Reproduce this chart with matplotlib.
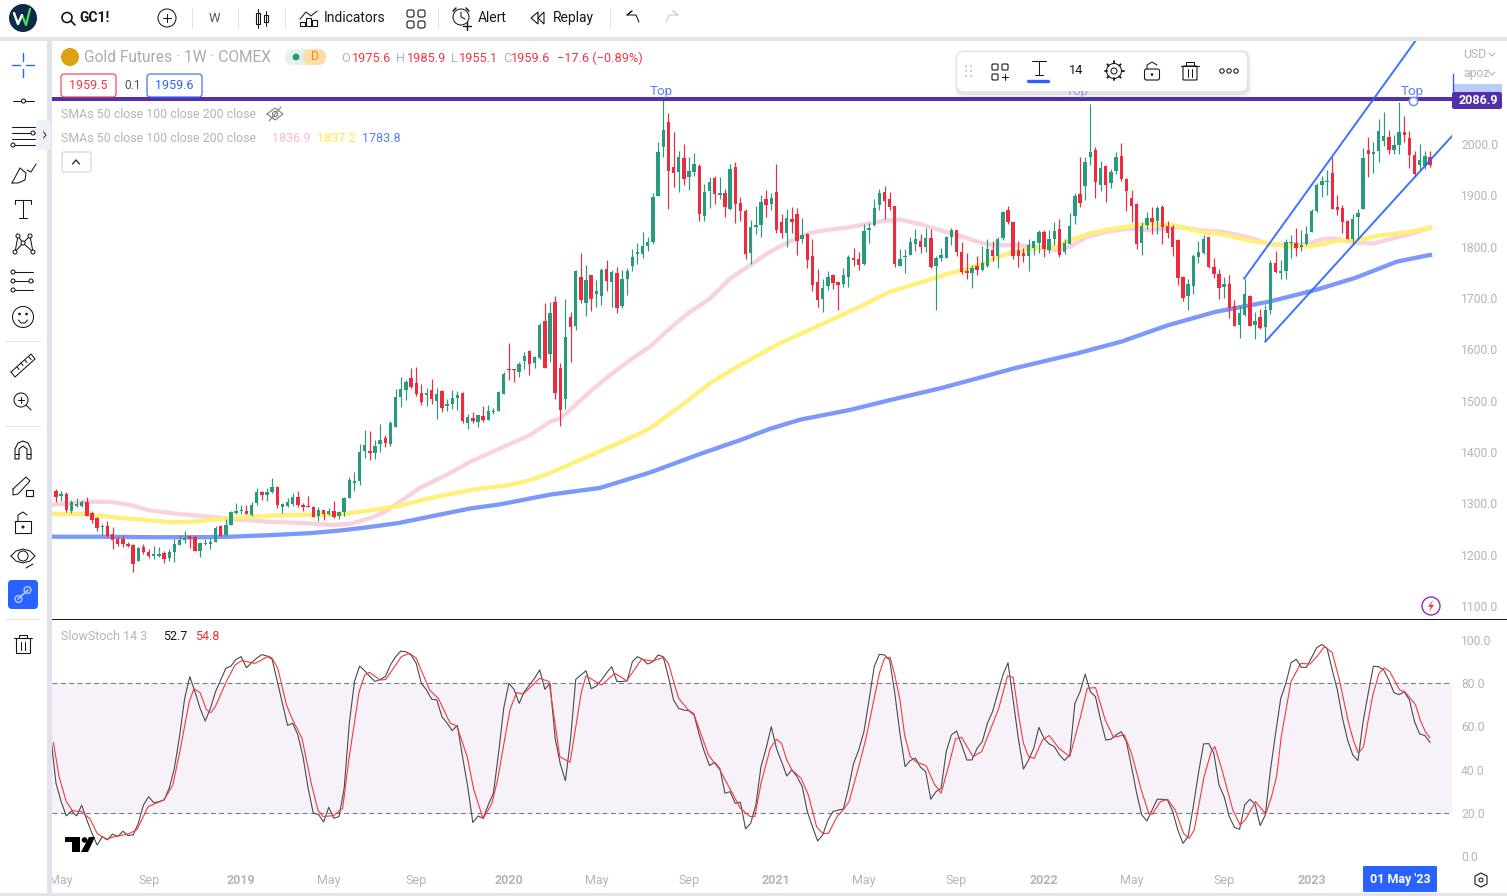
import numpy as np
import matplotlib
matplotlib.use("Agg")
import matplotlib.pyplot as plt
from matplotlib.patches import Circle, FancyBboxPatch, Polygon, Rectangle

plt.rcParams['font.family'] = ['Roboto', 'DejaVu Sans']

# weekly gold futures
open_ = [1324,1314,1318,1286,1294,1294,1302,1281,1271,1253,
         1255,1240,1230,1230,1221,1218,1187,1214,1206,1197,
         1197,1203,1193,1205,1219,1228,1236,1234,1207,1220,
         1221,1225,1255,1239,1257,1281,1285,1286,1278,1300,
         1322,1316,1322,1332,1293,1294,1298,1312,1296,1294,
         1293,1275,1288,1279,1286,1275,1283,1311,1340,1344,
         1402,1402,1398,1416,1427,1415,1449,1507,1520,1544,
         1534,1515,1511,1521,1499,1519,1489,1493,1505,1515,
         1456,1466,1458,1470,1462,1478,1480,1513,1561,1561,
         1555,1577,1597,1573,1583,1655,1591,1692,1564,1503,
         1663,1646,1741,1690,1745,1708,1704,1756,1731,1749,
         1684,1737,1762,1786,1786,1801,1809,1899,1994,2043,
         1955,1945,1973,1936,1945,1957,1860,1908,1934,1901,
         1904,1873,1955,1885,1869,1788,1838,1842,1893,1883,
         1906,1848,1827,1854,1864,1815,1825,1782,1731,1698,
         1723,1745,1731,1727,1741,1778,1776,1766,1832,1842,
         1881,1906,1893,1879,1762,1780,1784,1805,1811,1799,
         1817,1762,1778,1778,1819,1832,1790,1753,1749,1762,
         1755,1762,1793,1782,1817,1871,1848,1793,1788,1782,
         1797,1807,1829,1793,1815,1834,1790,1805,1860,1903,
         1918,1975,1988,1920,1957,1924,1947,1977,1932,1895,
         1883,1807,1842,1856,1850,1877,1840,1838,1813,1741,
         1704,1723,1780,1788,1819,1760,1747,1721,1727,1684,
         1647,1667,1703,1647,1663,1644,1677,1768,1749,1753,
         1807,1807,1799,1805,1829,1869,1920,1926,1943,1877,
         1875,1850,1815,1858,1873,1988,1980,1986,2006,2013,
         1988,1998,2023,2011,1978,1959,1957,1975.6]
high = [1327,1325,1322,1306,1310,1306,1312,1286,1273,1260,
        1265,1254,1234,1238,1225,1221,1215,1220,1212,1216,
        1215,1208,1212,1230,1238,1246,1239,1238,1225,1231,
        1233,1255,1257,1270,1285,1301,1296,1296,1303,1329,
        1324,1329,1349,1333,1301,1310,1320,1324,1301,1314,
        1294,1292,1288,1290,1304,1286,1313,1352,1361,1415,
        1442,1441,1423,1454,1433,1460,1522,1546,1540,1563,
        1565,1532,1524,1542,1524,1521,1503,1521,1519,1517,
        1474,1478,1472,1489,1491,1485,1519,1556,1612,1561,
        1575,1595,1599,1587,1651,1690,1692,1704,1573,1698,
        1673,1755,1788,1764,1745,1735,1758,1774,1755,1760,
        1755,1758,1795,1807,1829,1819,1904,2004,2086,2060,
        2023,1986,2000,1975,1982,1961,1922,1936,1938,1936,
        1912,1961,1965,1897,1873,1852,1879,1901,1910,1904,
        1961,1864,1873,1877,1875,1856,1827,1815,1756,1737,
        1753,1747,1731,1758,1784,1797,1790,1844,1846,1893,
        1912,1918,1906,1879,1795,1795,1819,1834,1825,1836,
        1834,1782,1797,1821,1836,1832,1809,1788,1764,1782,
        1801,1815,1811,1819,1869,1879,1848,1811,1797,1815,
        1811,1832,1832,1832,1848,1854,1815,1865,1904,1975,
        1975,2078,1994,1967,1959,1951,1984,2002,1934,1910,
        1885,1848,1867,1877,1879,1881,1850,1842,1815,1743,
        1737,1786,1811,1823,1819,1778,1756,1741,1745,1696,
        1684,1737,1706,1673,1679,1686,1774,1791,1774,1815,
        1823,1836,1832,1840,1873,1924,1938,1949,1975,1901,
        1881,1852,1864,1873,1992,2013,2004,2049,2062,2027,
        2017,2082,2054,2025,1986,2000,1986,1985.9]
low = [1303,1305,1283,1281,1292,1292,1275,1262,1246,1238,
       1234,1211,1217,1214,1214,1166,1187,1202,1194,1192,
       1195,1184,1188,1186,1218,1223,1213,1207,1195,1218,
       1211,1225,1237,1236,1257,1279,1279,1279,1275,1296,
       1306,1305,1320,1291,1281,1292,1295,1292,1285,1292,
       1274,1266,1268,1277,1272,1270,1275,1311,1324,1336,
       1389,1384,1387,1400,1410,1412,1449,1488,1501,1524,
       1509,1491,1489,1493,1464,1478,1480,1484,1482,1456,
       1444,1456,1448,1458,1462,1474,1480,1513,1540,1536,
       1547,1562,1550,1564,1581,1564,1575,1503,1451,1484,
       1575,1638,1690,1665,1675,1683,1686,1714,1683,1671,
       1681,1706,1753,1766,1778,1792,1805,1899,1975,1873,
       1916,1906,1920,1910,1938,1850,1850,1875,1883,1893,
       1858,1871,1846,1850,1776,1766,1825,1819,1858,1871,
       1827,1817,1799,1827,1784,1807,1758,1714,1682,1673,
       1716,1718,1677,1721,1721,1762,1755,1764,1807,1840,
       1871,1854,1871,1760,1762,1749,1784,1791,1788,1790,
       1758,1677,1772,1778,1803,1782,1747,1737,1719,1745,
       1753,1760,1772,1758,1813,1844,1776,1760,1770,1753,
       1784,1788,1780,1788,1803,1780,1786,1805,1844,1877,
       1891,1959,1895,1908,1887,1914,1941,1928,1869,1848,
       1795,1784,1834,1825,1825,1805,1817,1782,1725,1694,
       1677,1708,1768,1786,1758,1739,1698,1700,1661,1645,
       1622,1665,1645,1620,1640,1616,1669,1749,1737,1737,
       1778,1782,1791,1803,1829,1867,1897,1901,1873,1862,
       1827,1815,1807,1815,1873,1936,1943,1965,1996,1980,
       1980,1980,2004,1953,1935,1949,1952,1955.1]
close = [1312,1319,1288,1303,1298,1303,1275,1267,1251,1256,
         1237,1228,1220,1221,1216,1182,1213,1205,1197,1201,
         1201,1192,1205,1221,1228,1233,1231,1207,1223,1222,
         1224,1251,1237,1257,1283,1285,1288,1279,1296,1322,
         1316,1322,1332,1296,1298,1302,1312,1296,1293,1292,
         1274,1288,1279,1286,1274,1283,1311,1345,1343,1400,
         1413,1398,1411,1424,1417,1457,1507,1522,1536,1526,
         1513,1497,1515,1503,1513,1485,1493,1505,1511,1460,
         1468,1460,1472,1462,1480,1480,1517,1552,1559,1559,
         1571,1587,1572,1585,1647,1564,1671,1515,1482,1624,
         1644,1753,1696,1735,1698,1714,1755,1733,1751,1681,
         1737,1753,1780,1790,1801,1809,1897,1984,2027,1947,
         1943,1975,1932,1947,1961,1864,1906,1926,1903,1904,
         1877,1951,1883,1869,1786,1838,1842,1887,1881,1895,
         1832,1827,1856,1848,1811,1823,1774,1725,1696,1719,
         1741,1729,1725,1745,1780,1774,1764,1830,1836,1875,
         1904,1889,1877,1766,1776,1782,1809,1815,1799,1817,
         1760,1778,1784,1819,1832,1790,1751,1749,1758,1755,
         1768,1795,1782,1815,1867,1848,1782,1782,1782,1803,
         1811,1829,1795,1815,1830,1784,1807,1840,1899,1885,
         1965,1984,1926,1953,1920,1945,1975,1932,1908,1879,
         1805,1840,1856,1848,1875,1838,1827,1799,1739,1700,
         1727,1782,1790,1815,1760,1747,1719,1727,1680,1645,
         1671,1708,1645,1655,1642,1677,1768,1751,1753,1809,
         1809,1797,1803,1825,1869,1920,1928,1928,1873,1871,
         1848,1815,1854,1865,1973,1980,1984,2025,2015,1988,
         1998,2023,2017,1978,1941,1969,1977,1959.6]

# moving averages: (week, value) read at the bends
sma50_w = [-1,6.6,10.5,14.4,18.3,24.1,29.9,35.8,41.6,47.4,53.2,57.1,61,63.9,66.8,70.7,76.6,80.5,86.3,92.1,96,
           97.9,99.9,103.8,107.7,111.5,115.4,119.3,123.2,127.1,131,134.9,138.7,142.6,146.5,149.4,154.3,160.1,164,167.9,171.8,175.7,
           179.6,182.1,186.8,189.9,194.5,197.1,200.3,204.2,208.1,212.6,217.8,222.3,226.8,231.4,235.9,239.8,243.1,246.2,248.9,252,255.9,259.8,263.7,267]
sma50 = [1297,1303,1303,1297,1286,1279,1274,1268,1264,1262,1258,1260,1271,1283,1303,1330,1359,1381,1407,1433,1459,
         1465,1482,1518,1550,1579,1605,1641,1673,1699,1738,1764,1790,1810,1827,1832,1838,1849,1853,1844,1832,1821,
         1808,1803,1803,1800,1793,1800,1819,1829,1835,1832,1839,1832,1829,1819,1805,1803,1805,1815,1816,1808,1806,1816,1826,1836.9]
sma100_w = [-1,5.4,11,16.8,22.6,26.4,32.3,38.1,43.9,49.8,55.6,61,66.8,72.6,80.5,88.2,92.1,96,
            111.5,115.4,121.2,127.1,132.9,140.7,148.4,156.2,162,167.9,173.7,177.6,
            181,184.3,187.5,190.8,194.5,197.1,201,204.9,208.8,212.6,217.1,222.3,226.8,231.4,235.9,239.8,243.1,246.2,249.5,252.8,256.7,260.6,263.7,267]
sma100 = [1279,1279,1273,1268,1263,1264,1270,1274,1277,1278,1279,1286,1295,1310,1326,1336,1345,1359,
          1427,1446,1488,1534,1569,1612,1647,1683,1712,1730,1748,1758,
          1771,1784,1792,1797,1800,1813,1826,1834,1840,1844,1842,1829,1824,1813,1805,1801,1800,1805,1812,1812,1821,1826,1830,1837.2]
sma200_w = [-1,8.6,18.3,28,33.8,41.6,49.4,55.2,61,66.8,72.6,80.5,86.3,96,105.7,115.4,125.1,132.9,138.7,144.6,154.3,162,171.8,179.6,
            186.2,198.4,207,216.1,225.3,235.8,244.9,252.7,260.6,267]
sma200 = [1235,1235,1234,1234,1235,1238,1242,1247,1254,1262,1274,1290,1298,1317,1330,1360,1396,1423,1445,1463,1482,1501,1524,1545,
          1563,1592,1615,1647,1673,1693,1716,1740,1771,1783.8]

# channel lines and the horizontal line drawn by hand on the chart
channel_w = [[230.9, 264.3], [235, 271.3]]
channel_p = [[1738, 2202.6], [1615, 2015.6]]
top_level = 2086.9
top_w = [117.6, 198.5, 263.5]

# slow stochastic %K, one value per week from week -1
stoch_k = [55,33.7,25.2,18.6,20.9,18.6,23.5,16.7,10.5,5.1,9.0,7.5,10.2,9.0,11.5,9.5,9.8,15.2,23.7,27.5,
           24.7,25.2,26.0,31.4,40.6,55.3,73.0,83.1,76.1,68.4,62.5,68.4,76.1,81.5,86.9,88.0,91.1,92.3,87.2,89.5,
           91.6,93.3,92.6,91.1,80.8,70.7,60.5,61.5,56.1,46.0,31.4,19.8,19.3,15.8,22.6,17.5,18.3,31.4,61.5,80.8,
           88.0,85.8,83.1,80.8,81.8,83.1,88.5,92.3,94.9,94.6,93.1,89.2,80.0,76.9,72.6,72.3,64.5,61.5,58.1,60.5,
           46.0,32.2,15.5,18.6,17.5,23.7,29.1,47.6,68.4,80.0,77.2,70.7,76.1,79.2,82.3,86.2,77.2,80.0,54.5,42.6,
           34.9,54.5,81.8,83.8,85.8,77.5,78.7,81.5,84.9,87.7,80.8,80.8,81.1,90.0,92.3,91.1,88.9,90.0,93.1,92.3,
           83.1,72.3,68.4,67.6,67.3,65.3,56.1,48.3,41.9,43.4,40.6,29.1,29.8,24.4,24.9,12.6,15.2,
           23.7,41.4,49.9,59.9,49.9,43.7,37.1,39.9,36.8,32.2,20.6,13.6,7.0,9.8,16.7,20.6,21.3,21.8,31.4,43.0,
           49.1,57.6,72.3,87.7,93.4,93.1,90.8,75.4,56.8,41.4,44.2,45.3,41.1,39.1,26.3,29.8,31.4,48.4,56.1,57.9,
           51.4,44.5,44.5,49.9,53.0,61.5,66.9,75.4,83.8,89.5,72.3,54.5,40.3,44.5,49.9,59.6,54.5,51.9,50.7,46.8,
           44.3,46.8,70.7,76.1,84.2,76.1,73.8,63.0,53.7,54.1,56.1,57.6,53.0,41.4,29.1,19.0,16.3,21.3,26.3,26.3,
           26.0,20.6,12.1,5.9,9.0,22.9,38.3,51.9,52.1,47.6,32.9,27.5,18.3,13.3,12.4,23.7,26.3,24.1,14.1,19.0,
           39.9,56.8,73.0,80.0,89.5,91.1,87.4,87.4,92.0,96.5,98.0,96.2,86.2,76.9,63.8,53.7,46.8,44.2,62.2,75.4,
           87.9,87.7,86.2,81.5,75.7,74.7,76.1,72.3,62.2,56.5,55.8,52.7]
# %D read at its bends
stoch_d_w = [-0.5,0.6,2,3.2,4.9,6.6,8,9.7,11.4,14,15.7,17.9,21,22.7,24,25.9,26.8,28,29.2,30.1,30.9,33.1,34.8,36.1,38.7,41.3,42,43.1,44.8,45.9,47.8,49.6,50.9,51.9,53.9,55.7,56.9,58.9,60,60.9,63,64.1,67.1,68.7,70,72.6,74.3,76.6,77.9,79.9,81.2,83,84.7,85.8,88.2,89.5,90.8,94,95.8,97.9,99.9,102.1,103,106,108.6,110.9,113.8,115.9,118.1,119,121,122.9,123.9,126.8,129,130.9,133,134.9,
             135.8,137,138.8,140,141,142,143,144.8,146.2,147.8,149,150.1,151.8,153.2,154.1,156,157.4,158.8,160,161,162.1,163,164,164.9,166,167.3,169.1,170.6,172,173.6,174.8,176,178.2,179.9,181.8,183.2,184.9,186,187.1,188,189,190.1,191.7,193,194.9,197,199.1,200.4,202,203.9,205.5,207.6,209,210.9,212.3,213,214.6,216,217.5,219.1,220.2,221.2,223.1,224.5,225.2,226.4,228.7,230.1,231.1,233.1,235.1,236.2,237.2,238.1,240,241.9,243.7,245.1,246.5,248,249.4,251.2,252.2,253.1,254.1,255,255.9,257.1,258.1,259.2,261.1,262.1,263.2,264.2,265.1,266.1,267]
stoch_d = [52.5,36.8,25.2,21.0,20.6,17.2,10.5,7.8,9.0,10.2,12.1,22.9,26,32.9,47.6,71.5,77.4,75.7,67.9,66.4,68.9,80.8,88.5,90.5,89.2,92.6,91.6,86.9,69.9,63.5,54.5,33.7,21.3,18.3,18.7,22.1,44.5,76.1,83.8,85.1,81.5,81.8,92.3,93.9,91.6,76.9,73,61.5,60.2,46,30.6,17.2,24.4,35.2,67.6,75.7,75.0,82.3,80.8,46,43.4,76.1,83.4,79.2,84.6,81.2,91.1,90.3,92,89.2,73,67.6,66.1,46.8,39.9,31.4,22.1,18.3,
           18.3,33.7,49.9,54.1,52.2,44.5,39.9,36,28.3,13.6,10.5,10.5,18.3,22.1,25.2,41.4,54.5,70.7,84.6,91.6,92,83.8,72.3,56.1,46,43.4,41.9,33.7,29.1,43,54.2,55,46,48.4,59.9,68.4,83.4,82.8,64.6,52.2,46,45.3,53.8,55.8,49.9,46,64.6,77.7,78,63,55,56.1,47.6,30.6,20.1,19.3,25.2,26.3,21.3,10.5,8.2,12.1,36.8,48.4,50.7,41.4,21.3,14.4,16.7,25.2,19.5,27.5,36.8,55.3,80.8,89.2,88.9,92.6,97,94.2,81.5,61.5,53,47.6,50.7,63,74.6,84.6,87.2,85.4,76.9,76.1,73,70,63,57.6,54.8]

price_ticks = [1100,1200,1300,1400,1500,1600,1700,1800,1900,2000]
stoch_ticks = [0,20,40,60,80,100]
time_ticks = [1,18,36,53,70,88,105,123,140,157,175,192,209,227,244]
time_labels = ['May','Sep','2019','May','Sep','2020','May','Sep','2021','May','Sep','2022','May','Sep','2023']

GREEN = '#2A9A7C'
RED = '#EE2A3E'
GREY = '#B2B5BE'
INK = '#131722'
BLUE = '#2962FF'
W, H = 1507, 896
XMIN, XMAX = -0.777, 271.28

def pane(y0, y1):
    return fig.add_axes([52/W, 1-y1/H, 1400/W, (y1-y0)/H])

fig = plt.figure(figsize=(W/100, H/100), dpi=100, facecolor='white')
ax = pane(40, 619)
ax2 = pane(620, 866)

# price pane
weeks = np.arange(len(close))
op, hi, lo, cl = map(np.array, (open_, high, low, close))
colors = np.where(cl >= op, GREEN, RED)
ax.plot(sma50_w, sma50, color='#F8D3DE', lw=3.1, zorder=2)
ax.plot(sma100_w, sma100, color='#FFF07A', lw=3.1, zorder=2.1)
ax.plot(sma200_w, sma200, color='#7D98FB', lw=3.1, zorder=2.2)
ax.vlines(weeks, lo, hi, colors=colors, lw=0.85, zorder=3)
ax.bar(weeks, np.maximum(np.abs(cl-op), 1.5), bottom=np.minimum(op, cl), width=0.66, color=colors, lw=0, zorder=3.1)
ax.axhline(top_level, color='#5130A8', lw=2.9, zorder=4)
for w_, p_ in zip(channel_w, channel_p):
    ax.plot(w_, p_, color=BLUE, lw=1.4, zorder=5, alpha=0.9)
for w_ in top_w:
    ax.text(w_, top_level+3, 'Top', color='#5B7CF5', fontsize=9.6, ha='center', va='bottom', zorder=5)
ax.plot([263.7], [top_level-3], 'o', mfc='white', mec='#7D98FB', ms=6, mew=1.2, zorder=6)
ax.set_xlim(XMIN, XMAX)
ax.set_ylim(1074.7, 2202.6)
ax.set_xticks([])
ax.set_yticks(price_ticks, [f'{t:.1f}' for t in price_ticks])

# stochastic pane
ax2.axhspan(20, 80, color='#F7F1FA', lw=0, zorder=0)
ax2.axhline(80, color='#787B86', lw=0.8, dashes=(4.5, 3))
ax2.axhline(20, color='#787B86', lw=0.8, dashes=(4.5, 3))
ax2.plot(np.arange(len(stoch_k))-1, stoch_k, color='#4A4A4F', lw=0.8, zorder=3)
ax2.plot(stoch_d_w, stoch_d, color='#F23B3B', lw=0.8, zorder=4)
ax2.set_xlim(XMIN, XMAX)
ax2.set_ylim(-4.6, 109.3)
ax2.set_yticks(stoch_ticks, [f'{t:.1f}' for t in stoch_ticks])
ax2.set_xticks(time_ticks, time_labels)
for t in ax2.get_xticklabels():
    if t.get_text().isdigit():
        t.set_fontweight('bold')

for a in (ax, ax2):
    a.yaxis.tick_right()
    a.tick_params(axis='y', length=0, pad=6.5, labelcolor=GREY, labelsize=8.7)
    a.tick_params(axis='x', length=0, pad=6, labelcolor=GREY, labelsize=9)
    for s in a.spines.values():
        s.set_visible(False)

# screen furniture, in pixels
ui = fig.add_axes([0, 0, 1, 1], zorder=10)
ui.set_xlim(0, W)
ui.set_ylim(H, 0)
ui.axis('off')
ui.patch.set_alpha(0)

def rect(x0, y0, x1, y1, fc, ec='none', lw=0.8):
    ui.add_patch(Rectangle((x0, y0), x1-x0, y1-y0, fc=fc, ec=ec, lw=lw))

def rbox(x0, y0, x1, y1, fc='white', ec='none', r=3, lw=0.8, z=2, alpha=None):
    ui.add_patch(FancyBboxPatch((x0, y0), x1-x0, y1-y0, boxstyle=f'round,pad=0,rounding_size={r}', fc=fc, ec=ec, lw=lw, zorder=z, alpha=alpha))

def line(xs, ys, c=INK, lw=0.75, z=3):
    ui.plot(xs, ys, color=c, lw=lw, solid_capstyle='round', zorder=z)

def circ(x, y, r, ec=INK, fc='none', lw=0.75, z=3):
    ui.add_patch(Circle((x, y), r, fc=fc, ec=ec, lw=lw, zorder=z))

def txt(x, y, s, c=INK, size=9.4, ha='left', weight='normal', z=4):
    ui.text(x, y, s, color=c, fontsize=size, ha=ha, va='center', fontweight=weight, zorder=z)

BAND = '#E0E3EB'
rect(0, 0, W, 37, 'white')
rect(0, 37, W, 41, BAND)
rect(0, 41, 47, H, 'white')
rect(47, 37, 52, H, BAND)
rect(0, 893, W, H, BAND)
rect(52, 619, W, 620, INK)
rbox(36, 120, 51, 150, fc='#EEF1F8', r=4)
line([43.5, 46, 43.5], [132, 135, 138], c='#333')

# top bar
circ(23, 18, 14, ec='none', fc='#0F2A47')
line([14, 18, 22, 26, 30], [13, 24, 15, 25, 9], c='#4CD964', lw=1.6)
line([14, 18, 22], [13, 24, 15], c='white', lw=1.6)
circ(67, 17.5, 5, lw=1.2)
line([71, 75], [21, 25], lw=1.2)
txt(79, 18, 'GC1!', weight='bold', size=10)
circ(167, 18, 9)
line([163, 171], [18, 18])
line([167, 167], [14, 22])
txt(214, 18, 'W', ha='center', c='#555')
for x_ in (192, 238, 285, 438, 610):
    line([x_, x_], [8, 28], c=BAND)
rect(256, 13, 260, 24, 'white', ec=INK)
line([258, 258], [9, 28])
rect(263.5, 15, 267.5, 22, 'white', ec=INK)
line([265.5, 265.5], [11, 26])
line([300, 306, 311, 317], [19, 12, 16, 11])
for x_, y_ in ((300, 22), (306, 18), (312, 20)):
    rect(x_, y_, x_+4.5, 26, 'white', ec=INK)
txt(324, 18, 'Indicators', size=10)
for x_ in (407, 418):
    for y_ in (10, 21):
        rbox(x_, y_, x_+7, y_+7, ec=INK, r=2)
circ(461, 17, 8)
line([461, 461, 465], [12, 17, 19])
line([453, 456], [11, 8], lw=1.1)
line([466, 469], [8, 11], lw=1.1)
line([463, 471], [26, 26], lw=1)
line([467, 467], [22, 30], lw=1)
txt(478, 18, 'Alert', size=10)
ui.add_patch(Polygon([[538, 12], [531, 18], [538, 24]], fc='none', ec=INK, lw=0.8))
ui.add_patch(Polygon([[544, 12], [538, 18], [544, 24]], fc='none', ec=INK, lw=0.8))
txt(553, 18, 'Replay', size=10)
line([627, 632, 627, 636, 639], [15, 11, 15, 15, 22])
line([678, 673, 678, 669, 666], [15, 11, 15, 15, 22], c='#C8CAD0')

# left toolbar
line([23, 23], [53, 61], c=BLUE, lw=1)
line([23, 23], [69, 77], c=BLUE, lw=1)
line([12, 20], [65, 65], c=BLUE, lw=1)
line([26, 34], [65, 65], c=BLUE, lw=1)
line([13, 34], [101, 101])
circ(23.5, 101, 2, fc='white')
for y_, a_, b_ in ((127, 12, 35), (133, 12, 35), (139, 12, 35), (145, 12, 35)):
    line([a_, b_], [y_, y_])
circ(33, 133, 2, fc='white')
circ(13, 145, 2, fc='white')
line([12, 20, 26, 25, 18, 12], [183, 168, 173, 180, 183, 183])
line([27, 31, 36], [170, 172, 164])
line([23, 23], [200, 218])
line([15, 31], [200, 200])
line([15, 15], [200, 204])
line([31, 31], [200, 204])
line([19, 27], [218, 218])
pts = [(15, 252), (18, 236), (30, 236), (33, 252), (23, 243)]
for a_, b_ in ((0, 1), (1, 4), (4, 2), (2, 3), (4, 3), (4, 0)):
    line([pts[a_][0], pts[b_][0]], [pts[a_][1], pts[b_][1]])
for p in pts:
    circ(p[0], p[1], 2, fc='white')
for y_ in (272, 281, 290):
    line([14, 33], [y_, y_])
    circ(13, y_, 2, fc='white')
circ(31, 281, 2, fc='white')
circ(23, 317, 10.5)
circ(19.5, 314, 0.8, fc=INK)
circ(26.5, 314, 0.8, fc=INK)
line([18.5, 21, 25, 27.5], [320, 323, 323, 320])
line([5, 40], [341, 341], c=BAND)
line([11, 31, 35, 15, 11], [372, 354, 359, 377, 372])
for x_, y_ in ((17, 367), (21, 363), (25, 360), (29, 357)):
    line([x_, x_+2], [y_, y_+2.5])
circ(21, 400, 7)
line([26, 31], [405, 410])
line([18, 24], [400, 400])
line([21, 21], [397, 403])
line([5, 40], [426, 426], c=BAND)
ui.add_patch(Polygon([[15, 459], [15, 449], [18, 443], [23, 441], [28, 443], [31, 449], [31, 459], [27, 459], [27, 449], [23, 446], [19, 449], [19, 459]], fc='none', ec=INK, lw=0.8))
line([15, 19], [454, 454])
line([27, 31], [454, 454])
line([13, 26, 30, 18, 13, 13], [489, 477, 481, 494, 495, 489])
rect(26, 490, 33, 496, 'white', ec=INK)
rect(15, 521, 31, 533, 'white', ec=INK)
line([18, 18, 23, 27], [521, 515, 512, 515])
circ(23, 527, 1, fc=INK)
circ(23, 556, 5)
line([11, 16, 23, 30, 35, 30, 23, 16, 11], [556, 551, 549, 551, 556, 561, 563, 561, 556])
line([26, 33], [568, 564])
rbox(8, 580, 38, 609, fc=BLUE, r=4)
line([18, 28], [599, 590], c='#B9CAFF', lw=1.2)
circ(18.5, 599, 3.4, ec='#B9CAFF', lw=1)
circ(27.5, 590, 3.4, ec='#B9CAFF', lw=1)
line([5, 40], [619, 619], c=BAND)
rect(16, 638, 30, 653, 'white', ec=INK)
line([14, 32], [638, 638])
line([19, 19, 27, 27], [638, 635, 635, 638])
line([21, 21], [642, 650])
line([25, 25], [642, 650])

# chart legend
circ(70, 57, 9, ec='none', fc='#E0A10F')
rect(64, 58.5, 76, 60, 'white')
rect(66, 55.5, 74, 57, 'white')
txt(84, 57, 'Gold Futures · 1W · COMEX', c='#A8ABB4', size=11.2)
rbox(285, 49, 326, 65, fc='#E3F2EE', r=8)
rbox(303, 49, 326, 65, fc='#FCDDA8', r=8)
circ(296, 57, 3.4, ec='none', fc='#2A9A7C')
txt(315, 57, 'D', c='#F08C00', size=9, ha='center')
for x_, lab, val in ((341, 'O', '1975.6'), (396, 'H', '1985.9'), (451, 'L', '1955.1'), (503, 'C', '1959.6')):
    txt(x_, 58, lab, c=GREY, size=9.2)
    txt(x_+(11 if lab in 'OH' else 8), 58, val, c='#F23645', size=9.2)
txt(557, 58, '−17.6 (−0.89%)', c='#F23645', size=9.2)
rbox(61, 74, 116, 97, ec='#F23645', r=3)
txt(88.5, 85.5, '1959.5', c='#F23645', size=9, ha='center')
txt(124, 85.5, '0.1', c='#555', size=8.6)
rbox(147, 74, 202, 97, ec=BLUE, r=3)
txt(174.5, 85.5, '1959.6', c=BLUE, size=9, ha='center')
txt(61, 114, 'SMAs 50 close 100 close 200 close', c=GREY, size=8.9)
line([267, 275, 283, 275, 267], [114, 108, 114, 120, 114], c='#777')
circ(275, 114, 2.5, ec='#777')
line([269, 281], [121, 107], c='#777')
txt(61, 138, 'SMAs 50 close 100 close 200 close', c=GREY, size=8.9)
txt(272, 138, '1836.9', c='#F8BBD0', size=9)
txt(317, 138, '1837.2', c='#FFEB3B', size=9)
txt(362, 138, '1783.8', c='#5B7CF5', size=9)
rbox(62, 152, 91, 172, ec='#D0D3DA', r=2)
line([72.5, 76, 79.5], [164, 160, 164], c='#333', lw=1)
txt(61, 636, 'SlowStoch 14 3', c=GREY, size=9)
txt(163, 636, '52.7', c=INK, size=9)
txt(195, 636, '54.8', c='#F23030', size=9)

# floating drawing toolbar
rbox(955, 50, 1251, 97, fc='#C8CBD3', r=9, z=5, alpha=0.25)
rbox(956, 51, 1249, 95, fc='#C8CBD3', r=8, z=5, alpha=0.35)
rbox(957, 52, 1247, 91, fc='white', r=7, z=6)
for x_ in (966, 971):
    for y_ in (66, 71, 76):
        circ(x_, y_, 0.9, ec='none', fc='#B2B5BE', z=7)
for x_, y_ in ((992, 64), (1002, 64), (992, 74)):
    rbox(x_, y_, x_+6, y_+6, ec=INK, r=1, z=7)
line([1002, 1008], [77, 77], z=7)
line([1005, 1005], [74, 80], z=7)
line([1039, 1039], [61, 75], z=7)
line([1032, 1046], [61, 61], z=7)
line([1035, 1043], [75, 75], z=7)
line([1028, 1048], [81, 81], c=BLUE, lw=2.4, z=7)
txt(1076, 71, '14', size=9.2, ha='center', z=7)
circ(1114, 71, 7.5, z=7)
circ(1114, 71, 3, z=7)
for a_ in np.arange(0, 360, 45):
    ca, sa = np.cos(np.radians(a_)), np.sin(np.radians(a_))
    line([1114+7.5*ca, 1114+9.5*ca], [71+7.5*sa, 71+9.5*sa], lw=1.3, z=7)
rbox(1144.5, 69, 1159.5, 80, ec=INK, r=2, z=7)
line([1147, 1147, 1152, 1157], [69, 65, 62, 65], z=7)
circ(1152, 74.5, 0.8, fc=INK, z=7)
rbox(1183, 66, 1197, 80, ec=INK, r=1, z=7)
line([1181, 1199], [66, 66], z=7)
line([1186, 1186, 1194, 1194], [66, 62, 62, 66], z=7)
line([1188, 1188], [69, 77], z=7)
line([1192, 1192], [69, 77], z=7)
for x_ in (1222, 1229, 1236):
    circ(x_, 71, 2.2, z=7)

# right scale furniture
txt(1463, 54, 'USD', c=GREY, size=8.8)
line([1489, 1492, 1495], [53, 56, 53], c=GREY)
txt(1463, 73, 'apoz', c=GREY, size=8.8)
line([1489, 1492, 1495], [72, 75, 72], c=GREY)
line([1453, 1453], [74, 92], c=BLUE, lw=1)
rect(1453, 84, 1502, 92, '#BCC9FB')
rbox(1452, 92, 1502, 109, fc='#5130A8', r=2)
txt(1478, 100.5, '2086.9', c='white', size=9, ha='center', weight='bold')
circ(1431, 606, 9, ec='#9C27B0', lw=1)
ui.add_patch(Polygon([[1433, 600], [1428, 607], [1431, 607], [1429, 612], [1434, 605], [1431, 605]], fc='#F23645', ec='none', zorder=3))

# watermark logo, time cursor, settings
rect(65, 837, 80, 842, 'black')
rect(72, 837, 80, 852, 'black')
circ(84.5, 840, 2.8, ec='none', fc='black')
ui.add_patch(Polygon([[89, 837], [95, 837], [88, 852], [81, 852]], fc='black', ec='none', zorder=3))
rbox(1363, 866, 1437, 892, fc=BLUE, r=1)
txt(1400, 880, "01 May '23", c='white', size=9, ha='center', weight='bold')
ui.add_patch(Polygon([[1475, 876], [1481, 873], [1487, 876], [1487, 884], [1481, 887], [1475, 884]], fc='none', ec=INK, lw=0.8))
circ(1481, 880, 2)

fig.savefig('out.png', dpi=100)
